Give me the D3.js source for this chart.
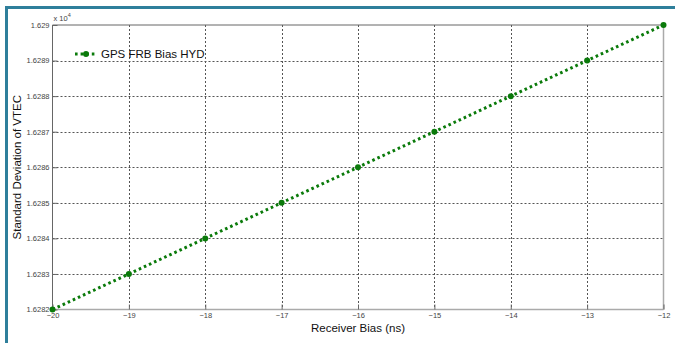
<!DOCTYPE html>
<html>
<head>
<meta charset="utf-8">
<script src="https://cdn.jsdelivr.net/npm/d3@7"></script>
<style>
  body { margin: 0; background: #fff; }
  svg { display: block; font-family: "Liberation Sans", Arial, sans-serif; }
</style>
</head>
<body>
<div id="chart"></div>
<script>
// receiver bias (ns) and the std dev of VTEC, in units of 10^4
var biasValues = [-20, -19, -18, -17, -16, -15, -14, -13, -12];
var vtecStd = [1.6282, 1.6283, 1.6284, 1.6285, 1.6286, 1.6287, 1.6288, 1.6289, 1.6290];
var xTicks = [-20, -19, -18, -17, -16, -15, -14, -13, -12];
var yTicks = [1.6282, 1.6283, 1.6284, 1.6285, 1.6286, 1.6287, 1.6288, 1.6289, 1.629];
var seriesName = "GPS FRB Bias HYD";

var width = 675, height = 343;
var margin = {left: 52.5, right: 11.5, top: 25, bottom: 33.5};

var svg = d3.select("#chart").append("svg")
  .attr("width", width)
  .attr("height", height);

// teal frame pieces
svg.append("rect").attr("x", 5).attr("y", 6).attr("width", width - 5).attr("height", 3).attr("fill", "#2f7f9b");
svg.append("rect").attr("x", 5).attr("y", 6).attr("width", 3).attr("height", height - 6).attr("fill", "#2f7f9b");

var x = d3.scaleLinear().domain([-20, -12]).range([margin.left, width - margin.right]);
var y = d3.scaleLinear().domain([1.6282, 1.629]).range([height - margin.bottom, margin.top]);

var x0 = x(-20), x1 = x(-12), y0 = y(1.6282), y1 = y(1.629);

// grid
var grid = svg.append("g").attr("stroke", "#555").attr("stroke-width", 1).attr("stroke-dasharray", "2,2");
grid.selectAll(".vg").data(xTicks.slice(1, -1)).enter().append("line")
  .attr("x1", function(d) { return Math.round(x(d)) + 0.5; })
  .attr("x2", function(d) { return Math.round(x(d)) + 0.5; })
  .attr("y1", y1).attr("y2", y0);
grid.selectAll(".hg").data(yTicks.slice(1, -1)).enter().append("line")
  .attr("y1", function(d) { return Math.round(y(d)) + 0.5; })
  .attr("y2", function(d) { return Math.round(y(d)) + 0.5; })
  .attr("x1", x0).attr("x2", x1);

// axes box
svg.append("line").attr("x1", x0).attr("x2", x1).attr("y1", y1).attr("y2", y1).attr("stroke", "#666");
svg.append("line").attr("x1", x0).attr("x2", x0).attr("y1", y1).attr("y2", y0).attr("stroke", "#666");
svg.append("line").attr("x1", x1).attr("x2", x1).attr("y1", y1).attr("y2", y0).attr("stroke", "#aaa").attr("stroke-width", 1.5);
svg.append("line").attr("x1", x0).attr("x2", x1).attr("y1", y0).attr("y2", y0).attr("stroke", "#aaa").attr("stroke-width", 1.5);

// axes with inward ticks
var xAxis = d3.axisBottom(x).tickValues(xTicks).tickSize(-5).tickPadding(3).tickFormat(d3.format("d"));
var gx = svg.append("g").attr("transform", "translate(0," + y0 + ")").call(xAxis);
var yAxis = d3.axisLeft(y).tickValues(yTicks).tickSize(-5).tickPadding(3).tickFormat(function(d) { return +d.toFixed(4); });
var gy = svg.append("g").attr("transform", "translate(" + x0 + ",0)").call(yAxis);
[gx, gy].forEach(function(g) {
  g.select(".domain").remove();
  g.selectAll(".tick line").attr("stroke", "#666");
  g.selectAll(".tick text").attr("fill", "#444").style("font-size", "7.5px")
    .style("font-family", "'Liberation Sans', Arial, sans-serif");
});

// exponent
var ex = svg.append("text").attr("x", x0 + 1).attr("y", y1 - 4).attr("fill", "#444").style("font-size", "7.5px");
ex.append("tspan").text("x 10");
ex.append("tspan").attr("dy", -4).style("font-size", "5.5px").text("4");

// labels
svg.append("text").attr("x", (x0 + x1) / 2).attr("y", 332).attr("text-anchor", "middle")
  .attr("fill", "#111").style("font-size", "11.5px").text("Receiver Bias (ns)");
svg.append("text").attr("transform", "translate(21," + (y0 + y1) / 2 + ") rotate(-90)")
  .attr("text-anchor", "middle").attr("fill", "#111").style("font-size", "11.5px")
  .text("Standard Deviation of VTEC");

// series
var data = biasValues.map(function(b, i) { return {x: b, y: vtecStd[i]}; });
var line = d3.line().x(function(d) { return x(d.x); }).y(function(d) { return y(d.y); });
svg.append("path").datum(data).attr("d", line)
  .attr("fill", "none").attr("stroke", "#0a7a0a").attr("stroke-width", 3)
  .attr("stroke-dasharray", "2.6,3");
svg.selectAll(".pt").data(data).enter().append("circle")
  .attr("cx", function(d) { return x(d.x); })
  .attr("cy", function(d) { return y(d.y); })
  .attr("r", 3).attr("fill", "#0a7a0a");

// legend
var ly = 54;
svg.append("line").attr("x1", 75).attr("x2", 97).attr("y1", ly).attr("y2", ly)
  .attr("stroke", "#0a7a0a").attr("stroke-width", 3).attr("stroke-dasharray", "2.6,3");
svg.append("circle").attr("cx", 86).attr("cy", ly).attr("r", 3).attr("fill", "#0a7a0a");
svg.append("text").attr("x", 101).attr("y", ly + 4).attr("fill", "#111").style("font-size", "11.5px").text(seriesName);
</script>
</body>
</html>
